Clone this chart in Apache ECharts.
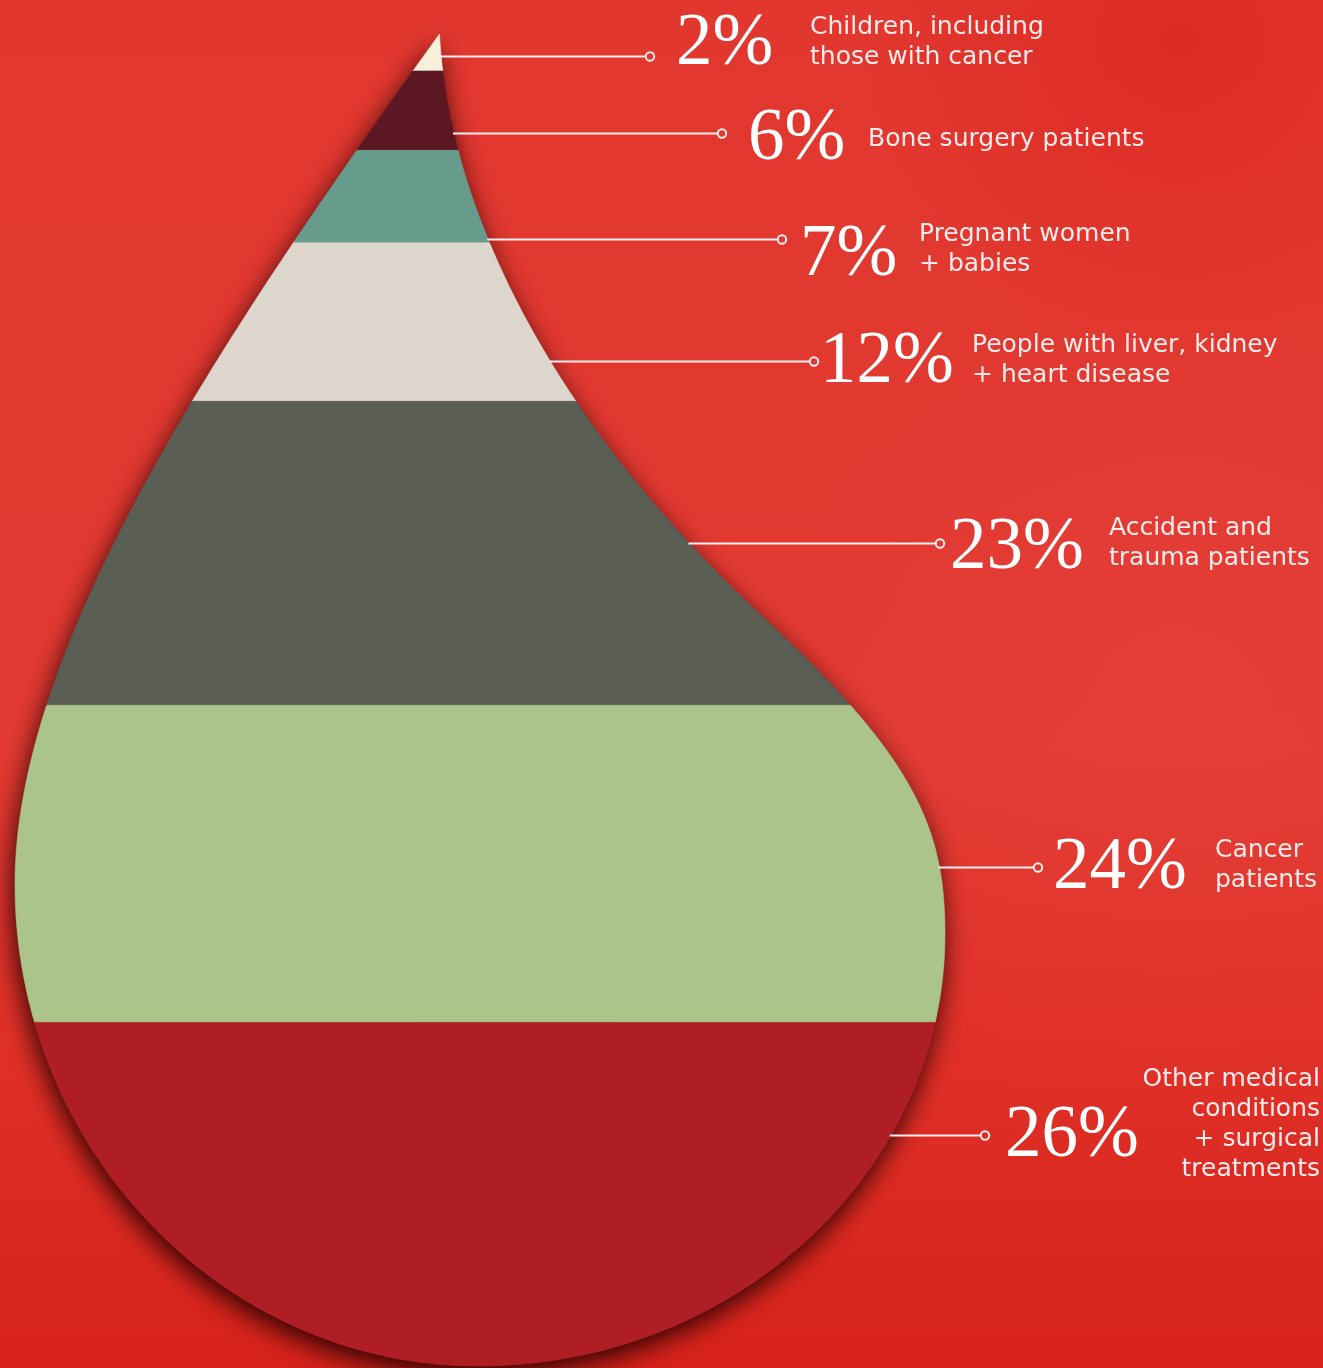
<!DOCTYPE html>
<html>
<head>
<meta charset="utf-8">
<script src="https://cdn.jsdelivr.net/npm/echarts@6/dist/echarts.min.js"></script>
<style>
html,body{margin:0;padding:0;background:#e0352d;}
#chart{width:1323px;height:1368px;}
</style>
</head>
<body>
<div id="chart"></div>
<script>
// ---------------- DATA ----------------
const categories = [
  'Children, including\nthose with cancer',
  'Bone surgery patients',
  'Pregnant women\n+ babies',
  'People with liver, kidney\n+ heart disease',
  'Accident and\ntrauma patients',
  'Cancer\npatients',
  'Other medical\nconditions\n+ surgical\ntreatments'
];
const shares = [2, 6, 7, 12, 23, 24, 26];

// ---------------- STYLE / LAYOUT ----------------
const bandColors = ['#f6f0da', '#5b1722', '#679b8b', '#ddd6cc', '#5a5e55', '#aac48b', '#b01e25'];
const leaderFrac = [0.43, 0.78, 0.96, 0.745, 0.466, 0.51, 0.328];
const circleX   = [650, 722, 782, 814, 940, 1038, 985];
const pctX      = [676, 748, 800, 820, 950, 1053, 1005];
const pctDy     = [-12, 6, 16, 1, 5, 1, 1];
const descX     = [810, 868, 919, 972, 1109, 1215, 1320];
const descAlign = ['left', 'left', 'left', 'left', 'left', 'left', 'right'];
const descDy    = [-14, 6, 10, -1, 0, -2, -11];

// drop outline geometry: cubic segments in a 930 x 1332 box (tip at top)
const DROP_W = 930, DROP_H = 1332;
const rightSegs = [
  [[424.5, 0], [434, 180], [540, 390], [750, 585]],
  [[750, 585], [900.8, 725], [930, 795], [930, 900]],
  [[930, 900], [930, 1138], [720, 1332], [463, 1332]]
];
const leftSegs = [
  [[424.5, 0], [208.5, 300], [0, 610], [0, 850]],
  [[0, 850], [0, 1115], [208, 1332], [463, 1332]]
];

function sampleCubic(segs, n) {
  const out = [];
  segs.forEach((s, si) => {
    for (let k = 0; k <= n; k++) {
      if (si > 0 && k === 0) continue;
      const t = k / n, u = 1 - t;
      const a = u * u * u, b = 3 * u * u * t, c = 3 * u * t * t, d = t * t * t;
      out.push([a * s[0][0] + b * s[1][0] + c * s[2][0] + d * s[3][0],
                a * s[0][1] + b * s[1][1] + c * s[2][1] + d * s[3][1]]);
    }
  });
  return out;
}
const R = sampleCubic(rightSegs, 160);
const L = sampleCubic(leftSegs, 200);

function xAt(S, y) {
  if (y <= S[0][1]) return S[0][0];
  for (let i = 1; i < S.length; i++) {
    if (S[i][1] >= y) {
      const a = S[i - 1], b = S[i];
      const t = (b[1] - a[1]) === 0 ? 0 : (y - a[1]) / (b[1] - a[1]);
      return a[0] + (b[0] - a[0]) * t;
    }
  }
  return S[S.length - 1][0];
}
function sideBetween(S, ya, yb) {
  const pts = [[xAt(S, ya), ya]];
  S.forEach(p => { if (p[1] > ya && p[1] < yb) pts.push(p); });
  pts.push([xAt(S, yb), yb]);
  return pts;
}

const Y_MIN = -0.8, Y_MAX = 100, X_LEFT = 15, X_RIGHT = 945;
const starts = [];
shares.reduce((acc, v) => { starts.push(acc); return acc + v; }, 0);
const bandData = shares.map((v, i) => [starts[i], starts[i] + v, v, i]);

function dropBox(api) {
  const tl = api.coord([X_LEFT, Y_MIN]);
  const br = api.coord([X_RIGHT, Y_MAX]);
  return { x: tl[0], y: tl[1], w: br[0] - tl[0], h: br[1] - tl[1] };
}
function toPx(box, p) {
  return [box.x + p[0] / DROP_W * box.w, box.y + p[1] / DROP_H * box.h];
}
function unitsY(box, py) { return (py - box.y) / box.h * DROP_H; }

const chart = echarts.init(document.getElementById('chart'), null, { renderer: 'canvas' });

const option = {
  animation: false,
  backgroundColor: '#e0352d',
  graphic: [
    { type: 'rect', z: -10, silent: true, shape: { x: 0, y: 0, width: 1323, height: 1368 },
      style: { fill: new echarts.graphic.LinearGradient(0, 0, 0, 1, [
        { offset: 0, color: '#e1372f' }, { offset: 0.55, color: '#e23a32' }, { offset: 0.78, color: '#df2f27' }, { offset: 1, color: '#d6221a' }]) } },
    { type: 'circle', z: -9, silent: true, shape: { cx: 1180, cy: 720, r: 420 },
      style: { fill: new echarts.graphic.RadialGradient(0.5, 0.5, 0.5, [
        { offset: 0, color: 'rgba(236,84,76,0.18)' }, { offset: 1, color: 'rgba(236,84,76,0)' }]) } },
    { type: 'circle', z: -9, silent: true, shape: { cx: 1180, cy: 40, r: 320 },
      style: { fill: new echarts.graphic.RadialGradient(0.5, 0.5, 0.5, [
        { offset: 0, color: 'rgba(216,30,24,0.45)' }, { offset: 1, color: 'rgba(216,30,24,0)' }]) } }
  ],
  grid: { left: 0, right: 0, top: 34, bottom: 2 },
  xAxis: { type: 'value', min: 0, max: 1323, show: false },
  yAxis: { type: 'value', min: Y_MIN, max: Y_MAX, inverse: true, show: false },
  series: [
    {
      type: 'custom', name: 'shadow', silent: true, z: 1,
      data: [[0, 100]],
      renderItem: function (params, api) {
        const box = dropBox(api);
        const pts = R.map(p => toPx(box, p)).concat(L.slice().reverse().map(p => toPx(box, p)));
        return { type: 'polygon', shape: { points: pts },
          style: { fill: '#b01e25', shadowBlur: 26, shadowColor: 'rgba(35,0,0,0.95)', shadowOffsetX: -2, shadowOffsetY: 9 } };
      }
    },
    {
      type: 'custom', name: 'bands', silent: true, z: 2,
      data: bandData,
      renderItem: function (params, api) {
        const box = dropBox(api);
        const i = api.value(3);
        const yTop = i === 0 ? 0 : unitsY(box, api.coord([0, api.value(0)])[1]);
        const yBot = i === shares.length - 1 ? DROP_H : unitsY(box, api.coord([0, api.value(1)])[1]);
        const right = sideBetween(R, yTop, yBot);
        const left = sideBetween(L, yTop, yBot).reverse();
        const pts = right.concat(left).map(p => toPx(box, p));
        return { type: 'polygon', shape: { points: pts },
          style: { fill: bandColors[i], stroke: bandColors[i], lineWidth: 0.6 } };
      }
    },
    {
      type: 'custom', name: 'labels', silent: true, z: 3,
      data: bandData,
      renderItem: function (params, api) {
        const box = dropBox(api);
        const i = api.value(3);
        const v0 = api.value(0), v1 = api.value(1);
        const y0 = api.coord([0, v0])[1], y1 = api.coord([0, v1])[1];
        const ly = Math.round(y0 + (y1 - y0) * leaderFrac[i]) + 0.5;
        const edgeX = toPx(box, [xAt(R, unitsY(box, ly)), 0])[0] - 1;
        const cx = api.coord([circleX[i], 0])[0];
        const px = api.coord([pctX[i], 0])[0];
        const dx = api.coord([descX[i], 0])[0];
        return {
          type: 'group',
          children: [
            { type: 'line', shape: { x1: edgeX, y1: ly, x2: cx - 4.5, y2: ly },
              style: { stroke: '#fbeeee', lineWidth: 2 } },
            { type: 'circle', shape: { cx: cx, cy: ly, r: 4.2 },
              style: { fill: 'rgba(0,0,0,0)', stroke: '#fbeeee', lineWidth: 2 } },
            { type: 'text', x: px, y: ly + pctDy[i],
              style: { text: api.value(2) + '%', fill: '#ffffff', font: 'normal 73px "Liberation Serif", serif',
                textAlign: 'left', textVerticalAlign: 'middle' } },
            { type: 'text', x: dx, y: ly + descDy[i],
              style: { text: categories[i], fill: '#fdeceb', font: 'normal 25px "DejaVu Sans", sans-serif',
                lineHeight: 30, textAlign: descAlign[i], textVerticalAlign: 'middle' } }
          ]
        };
      }
    }
  ]
};
chart.setOption(option);
</script>
</body>
</html>
